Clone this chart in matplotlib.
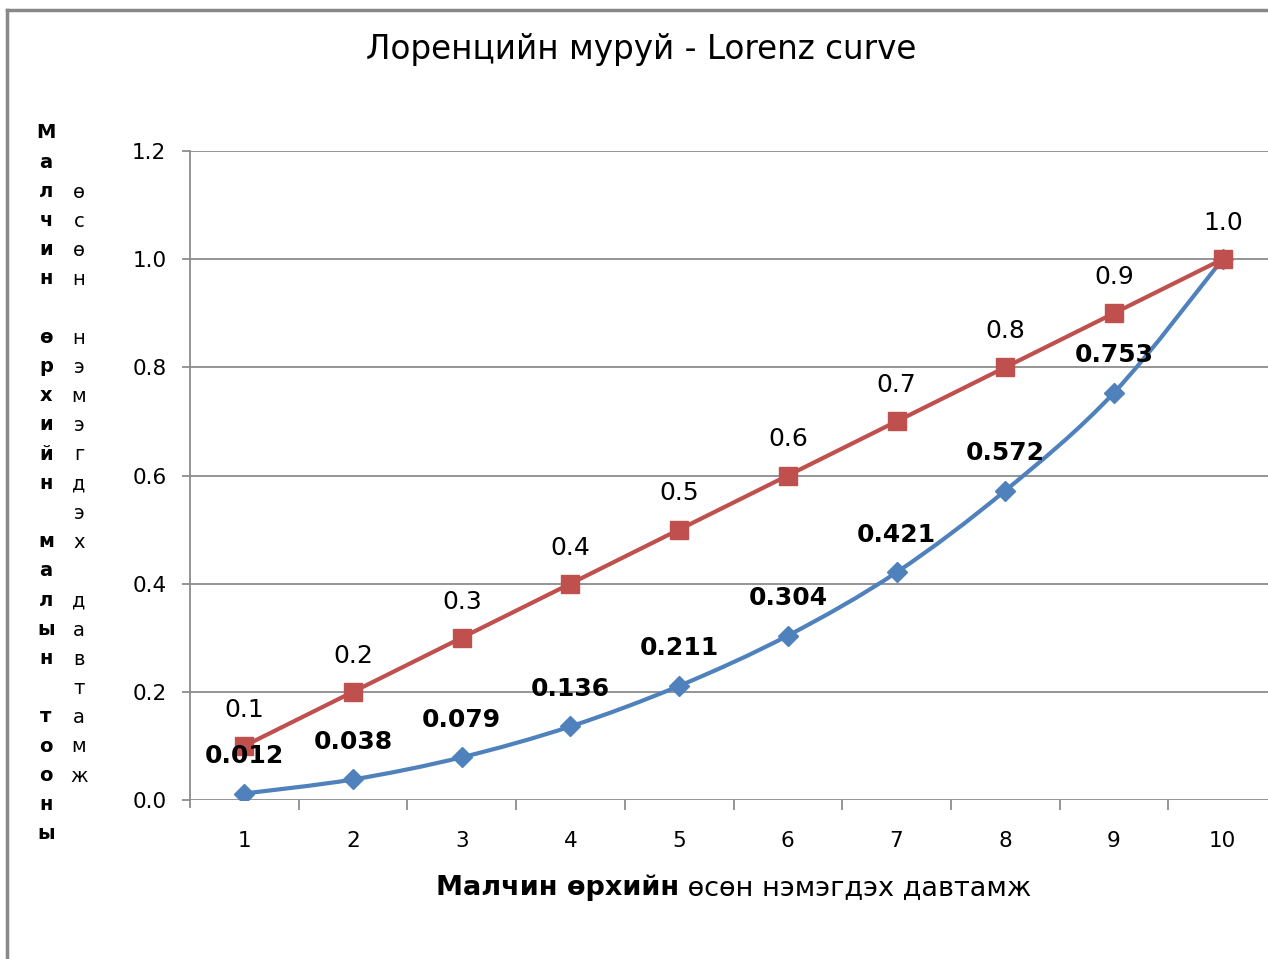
"""
Lorenz curve chart (Mongolian herders).
"""

import numpy as np
import matplotlib.pyplot as plt
from matplotlib.path import Path
from matplotlib.patches import PathPatch
from matplotlib.lines import Line2D

plt.rcParams['font.family'] = ['DejaVu Sans']

households = [1, 2, 3, 4, 5, 6, 7, 8, 9, 10]
equality = [0.1, 0.2, 0.3, 0.4, 0.5, 0.6, 0.7, 0.8, 0.9, 1.0]
lorenz = [0.012, 0.038, 0.079, 0.136, 0.211, 0.304, 0.421, 0.572, 0.753, 1.0]
lorenz_labels = ['0.012', '0.038', '0.079', '0.136', '0.211', '0.304',
                 '0.421', '0.572', '0.753', '']
equality_labels = ['0.1', '0.2', '0.3', '0.4', '0.5', '0.6', '0.7', '0.8',
                   '0.9', '1.0']
yticks = [0.0, 0.2, 0.4, 0.6, 0.8, 1.0, 1.2]

title = 'Лоренцийн муруй - Lorenz curve'
xlabel_bold = 'Малчин өрхийн'
xlabel_rest = ' өсөн нэмэгдэх давтамж'
ylabel_left = 'Малчин өрхийн малын тооны'
ylabel_right = 'өсөн нэмэгдэх давтамж'

RED = '#C0504D'
BLUE = '#4F81BD'
GRID = '#8C8C8C'


def smooth_path(xs, ys):
    # excel style smoothed line: bezier segments from neighbouring points
    pts = np.column_stack([xs, ys]).astype(float)
    n = len(pts)
    verts = [pts[0]]
    codes = [Path.MOVETO]
    for i in range(n - 1):
        p0 = pts[max(i - 1, 0)]
        p1 = pts[i]
        p2 = pts[i + 1]
        p3 = pts[min(i + 2, n - 1)]
        c1 = p1 + (p2 - p0) / 6.0
        c2 = p2 - (p3 - p1) / 6.0
        verts += [c1, c2, p2]
        codes += [Path.CURVE4] * 3
    return Path(verts, codes)


fig = plt.figure(figsize=(12.68, 9.59), dpi=100)
ax = fig.add_axes([190 / 1268, 159 / 959, 1087 / 1268, 649 / 959])
ax.set_xlim(0.5, 10.5)
ax.set_ylim(0, 1.2)

for y in yticks:
    ax.axhline(y, color=GRID, lw=1.3, zorder=1)

for s in ['top', 'right', 'bottom']:
    ax.spines[s].set_visible(False)
ax.spines['left'].set_color(GRID)
ax.spines['left'].set_linewidth(1.3)

ax.set_yticks(yticks)
ax.set_yticklabels(['%.1f' % v for v in yticks], fontsize=15.5)
ax.tick_params(axis='y', length=6, width=1.3, color=GRID, pad=11)
ax.set_xticks(households)
ax.set_xticklabels([str(v) for v in households], fontsize=15.5)
ax.set_xticks(np.arange(1.5, 10.5, 1), minor=True)
ax.tick_params(axis='x', which='major', length=0, pad=22)
ax.tick_params(axis='x', which='minor', length=7, width=1.3, color=GRID)
# tick under the y axis
ax.add_line(Line2D([0.5, 0.5], [0, -0.013], color=GRID, lw=1.3,
                   clip_on=False))

# blue lorenz curve (smoothed)
ax.add_patch(PathPatch(smooth_path(households, lorenz), fill=False,
                       edgecolor=BLUE, lw=3, zorder=3,
                       capstyle='round', joinstyle='round'))
ax.plot(households, lorenz, linestyle='none', marker='D', ms=10,
        color=BLUE, zorder=4)

# red equality line
ax.plot(households, equality, color=RED, lw=3, marker='s', ms=13,
        zorder=5)

for x, y, t in zip(households, equality, equality_labels):
    ax.annotate(t, (x, y), xytext=(0, 26), textcoords='offset points',
                ha='center', va='center', fontsize=18, zorder=6)
for x, y, t in zip(households, lorenz, lorenz_labels):
    ax.annotate(t, (x, y), xytext=(0, 27), textcoords='offset points',
                ha='center', va='center', fontsize=18, fontweight='bold',
                zorder=6)

fig.text(641 / 1268, 1 - 50 / 959, title, ha='center', va='center',
         fontsize=23.5)

# x label, bold part + regular part, centred at x=734 px
t1 = fig.text(0, 1 - 888 / 959, xlabel_bold, ha='left',
              va='center', fontsize=19.5, fontweight='bold')
t2 = fig.text(0, 1 - 888 / 959, xlabel_rest, ha='left',
              va='center', fontsize=19.5)
fig.canvas.draw()
w1 = t1.get_window_extent().width
w2 = t2.get_window_extent().width
x0 = 734 - (w1 + w2) / 2
t1.set_x(x0 / 1268)
t2.set_x((x0 + w1) / 1268)

# stacked vertical y label, two columns
step = 29.2
for i, ch in enumerate(ylabel_left):
    fig.text(46 / 1268, 1 - (133 + i * step) / 959, ch, ha='center',
             va='center', fontsize=14, fontweight='bold')
for i, ch in enumerate(ylabel_right):
    fig.text(79 / 1268, 1 - (192 + i * step) / 959, ch, ha='center',
             va='center', fontsize=14)

# chart area border (left and top edges)
fig.add_artist(Line2D([7 / 1268, 7 / 1268], [0, 1 - 10 / 959],
                      color='#888888', lw=2.5))
fig.add_artist(Line2D([7 / 1268, 1], [1 - 10 / 959, 1 - 10 / 959],
                      color='#888888', lw=2.5))

fig.savefig('out.png', dpi=100)
